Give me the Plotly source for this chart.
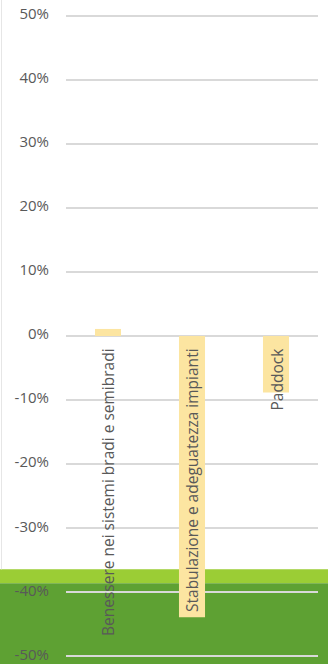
import plotly.graph_objects as go

# Variazione percentuale per area di valutazione
categories = [
    "Benessere nei sistemi bradi e semibradi",
    "Stabulazione e adeguatezza impianti",
    "Paddock",
]
values = [1.1, -43.9, -8.8]
tick_values = [50, 40, 30, 20, 10, 0, -10, -20, -30, -40, -50]
tick_labels = [f"{v}%" for v in tick_values]

TEXT_COLOR = "#595959"
BAR_COLOR = "#FCE5A1"
GRID_COLOR = "#D9D9D9"

fig = go.Figure()
fig.add_trace(go.Bar(
    x=categories,
    y=values,
    marker=dict(color=BAR_COLOR, line=dict(width=0)),
    width=0.31,
    hoverinfo="skip",
))

# Category names written vertically, hanging down from the zero line
for cat in categories:
    fig.add_annotation(
        x=cat, y=0, xref="x", yref="y",
        text=cat, textangle=-90, showarrow=False,
        xanchor="center", yanchor="top", yshift=-10,
        font=dict(family="Open Sans", size=15.5, color=TEXT_COLOR),
    )

Y_MIN, Y_MAX = -50.4, 50.4
top_px, bot_px = 16 - 0.4 * 6.4, 656 + 0.4 * 6.4
plot_w = 328 - 66 - 10
plot_h = bot_px - top_px

def py(pix):
    # pixel row -> paper y
    return (bot_px - pix) / plot_h

x_left = -66 / plot_w
x_right = (328 - 66) / plot_w

# Green footer band (light stripe over dark block)
fig.add_shape(type="rect", xref="paper", yref="paper",
              x0=x_left, x1=x_right, y0=py(583), y1=py(569),
              fillcolor="#9BCD35", line=dict(width=0), layer="below")
fig.add_shape(type="rect", xref="paper", yref="paper",
              x0=x_left, x1=x_right, y0=py(670), y1=py(583),
              fillcolor="#5EA133", line=dict(width=0), layer="below")
# Thin page edge on the left
fig.add_shape(type="line", xref="paper", yref="paper",
              x0=(1.5 - 66) / plot_w, x1=(1.5 - 66) / plot_w,
              y0=py(569), y1=py(-5),
              line=dict(color="#E6E6E6", width=1), layer="below")

fig.update_layout(
    width=328, height=664,
    margin=dict(l=66, r=10, t=top_px, b=664 - bot_px, autoexpand=False),
    paper_bgcolor="white", plot_bgcolor="rgba(0,0,0,0)",
    showlegend=False,
    bargap=0.69,
    xaxis=dict(showticklabels=False, showgrid=False, zeroline=False,
               showline=False, ticks="", automargin=False),
    yaxis=dict(range=[Y_MIN, Y_MAX], tickvals=tick_values, ticktext=tick_labels,
               showgrid=True, gridcolor=GRID_COLOR, gridwidth=1.5,
               zeroline=False, showline=False, ticks="", ticklen=0,
               automargin=False,
               ticklabelstandoff=16, ticklabelshift=-2,
               ticklabeloverflow="allow",
               tickfont=dict(family="Open Sans", size=15, color=TEXT_COLOR)),
    font=dict(family="Open Sans", color=TEXT_COLOR),
)

fig.write_html("out.html")
